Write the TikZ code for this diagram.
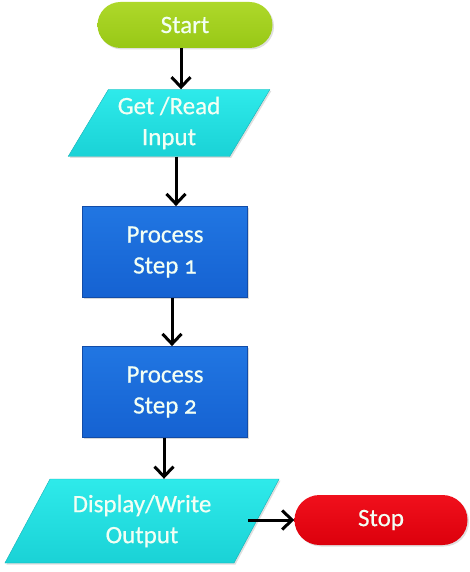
\documentclass[tikz,border=0pt]{standalone}
\usepackage{fontspec}
\setmainfont[Numbers=OldStyle]{Carlito}
\newfontfamily\labelfont[Numbers=OldStyle,FakeBold=0.5]{Carlito}
\usetikzlibrary{shapes.geometric,shapes.misc,arrows.meta,shadows}
\definecolor{startgreen}{HTML}{98C816}
\definecolor{startgreenlt}{HTML}{AED82A}
\definecolor{iocyan}{HTML}{1AD2D6}
\definecolor{iocyanlt}{HTML}{2EEAEA}
\definecolor{procblue}{HTML}{1562D2}
\definecolor{procbluelt}{HTML}{2176E2}
\definecolor{procbluedk}{HTML}{124CA8}
\definecolor{stopred}{HTML}{DC000C}
\definecolor{stopredlt}{HTML}{F0101C}
\definecolor{labelwhite}{HTML}{F2FFF4}
\tikzset{
  x=1pt, y=-1pt,
  lbl/.style={text=labelwhite, font=\labelfont\fontsize{25}{31}\selectfont, align=center},
  pill/.style={lbl, rounded rectangle, inner sep=0pt,
    drop shadow={shadow xshift=1.5pt, shadow yshift=-1.5pt, opacity=0.25}},
  ioshape/.style={lbl, trapezium, trapezium left angle=57, trapezium right angle=123,
    trapezium stretches=true, inner sep=0pt,
    draw=iocyan!85!black, line width=0.4pt,
    top color=iocyanlt, bottom color=iocyan,
    drop shadow={shadow xshift=1.5pt, shadow yshift=-1.5pt, opacity=0.25}},
  procbox/.style={lbl, rectangle, inner sep=0pt, minimum width=165pt, minimum height=91pt,
    draw=procbluedk, line width=0.8pt, top color=procbluelt, bottom color=procblue,
    drop shadow={shadow xshift=1.5pt, shadow yshift=-1.5pt, opacity=0.3}},
  flow/.style={-{Straight Barb[length=10pt,width=19pt,line width=3pt]}, line width=3pt, black}
}
\begin{document}
\begin{tikzpicture}
\useasboundingbox (0,0) rectangle (470,572);
% terminals
\node[pill, minimum width=175pt, minimum height=46pt,
      top color=startgreenlt, bottom color=startgreen] (start) at (185,25) {Start};
\node[pill, minimum width=173pt, minimum height=50pt,
      top color=stopredlt, bottom color=stopred] (stop) at (381,520) {Stop};
% input / output
\node[ioshape, minimum width=202pt, minimum height=67pt] (input) at (169,123) {Get /Read\\Input};
\node[ioshape, minimum width=275pt, minimum height=84pt] (output) at (142,521) {Display/Write\\Output};
% processing steps
\node[procbox] (p1) at (165,252) {Process\\Step 1};
\node[procbox] (p2) at (165,392) {Process\\Step 2};
% connectors
\draw[flow] (start.south -| 181,0) -- (input.north -| 181,0);
\draw[flow] (input.south -| 176,0) -- (p1.north -| 176,0);
\draw[flow] (p1.south -| 172,0) -- (p2.north -| 172,0);
\draw[flow] (p2.south -| 164,0) -- (output.north -| 164,0);
\draw[flow] (248,520) -- (stop.west);
\end{tikzpicture}
\end{document}
